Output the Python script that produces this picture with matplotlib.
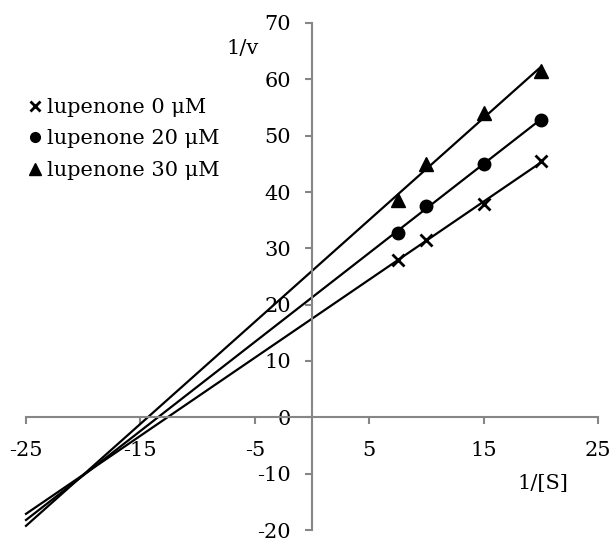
import matplotlib
matplotlib.use('Agg')

import numpy as np
import matplotlib.pyplot as plt
from matplotlib.lines import Line2D

plt.rcParams['font.family'] = ['DejaVu Serif']
plt.rcParams['axes.unicode_minus'] = False

inv_s = [7.5, 10, 15, 20]
series_labels = ["lupenone 0 μM", "lupenone 20 μM", "lupenone 30 μM"]
inv_v_0 = [28.0, 31.5, 37.8, 45.5]
inv_v_20 = [32.8, 37.5, 45.0, 52.8]
inv_v_30 = [38.5, 45.0, 54.0, 61.5]
x_ticks = [-25, -15, -5, 5, 15, 25]
y_ticks = [-20, -10, 0, 10, 20, 30, 40, 50, 60, 70]

markers = ['x', 'o', '^']
sizes = [9, 9, 10]
fs = 15

fig = plt.figure(figsize=(6.14, 5.42), dpi=100)
ax = fig.add_axes([26 / 614, 12 / 542, 572 / 614, 507 / 542])
ax.set_xlim(-25, 25)
ax.set_ylim(-20, 70)

grey = '#868686'
for side in ['top', 'right']:
    ax.spines[side].set_visible(False)
ax.spines['left'].set_position(('data', 0))
ax.spines['bottom'].set_position(('data', 0))
for side in ['left', 'bottom']:
    ax.spines[side].set_color(grey)
    ax.spines[side].set_linewidth(1.5)

xs = np.array(inv_s)
fit_x = np.array([-25, 20])
handles = []
for ys, m, ms, lab in zip([inv_v_0, inv_v_20, inv_v_30], markers, sizes, series_labels):
    k, b = np.polyfit(xs, ys, 1)
    ax.plot(fit_x, k * fit_x + b, color='black', lw=1.6, clip_on=False)
    ax.plot(xs, ys, linestyle='none', marker=m, markersize=ms, color='black',
            markeredgewidth=2 if m == 'x' else 1, clip_on=False)
    handles.append(Line2D([], [], linestyle='none', marker=m, color='black',
                          markersize=ms - 2, markeredgewidth=2 if m == 'x' else 1, label=lab))

ax.set_xticks(x_ticks)
ax.set_yticks(y_ticks)
ax.tick_params(axis='both', colors=grey, width=1.5, length=5, labelcolor='black', labelsize=fs)
ax.tick_params(axis='x', pad=12)
ax.tick_params(axis='y', pad=10)

fig.text(243 / 614, 1 - 48 / 542, "1/v", ha='center', va='center', fontsize=fs)
fig.text(543 / 614, 1 - 483 / 542, "1/[S]", ha='center', va='center', fontsize=fs)

fig.legend(handles=handles, loc='upper left', bbox_to_anchor=(30 / 614, 1 - 98 / 542),
           frameon=False, fontsize=fs, handlelength=0.5, handletextpad=0.3,
           labelspacing=0.6, borderaxespad=0, borderpad=0)

fig.savefig("out.png", dpi=100)
plt.close(fig)
